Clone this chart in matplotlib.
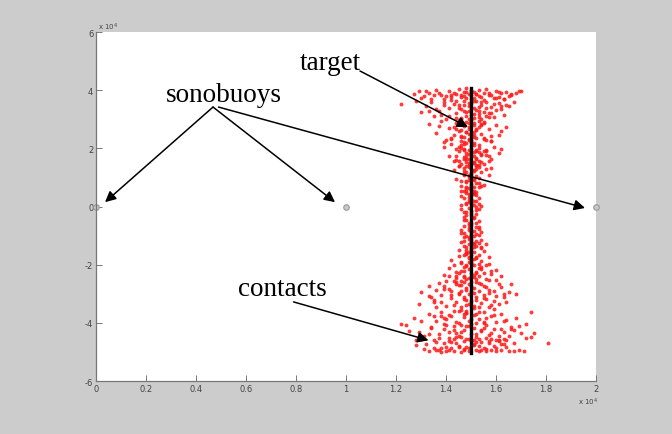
import matplotlib.pyplot as plt
import numpy as np

# all positions are in units of 10^4 (as on the axes)
buoy_x = [0.0, 1.0, 2.0]
buoy_y = [0.0, 0.0, 0.0]

target_x = [1.5, 1.5]
target_y = [-5.03, 4.07]

x_ticks = [0, 0.2, 0.4, 0.6, 0.8, 1, 1.2, 1.4, 1.6, 1.8, 2]
x_tick_labels = ['0', '0.2', '0.4', '0.6', '0.8', '1', '1.2', '1.4', '1.6', '1.8', '2']
y_ticks = [-6, -4, -2, 0, 2, 4, 6]
y_tick_labels = ['-6', '-4', '-2', '0', '2', '4', '6']

# contacts (top to bottom)
band_a_x = [1.29, 1.33, 1.36, 1.38, 1.41, 1.43, 1.45, 1.46, 1.47, 1.48,
            1.49, 1.50, 1.51, 1.52, 1.53, 1.55, 1.56, 1.58, 1.60, 1.62,
            1.64, 1.66, 1.69, 1.31, 1.35, 1.40, 1.44, 1.47, 1.50, 1.53,
            1.57, 1.61, 1.65, 1.42, 1.48, 1.54, 1.59, 1.39, 1.51, 1.63]
band_a_y = [3.96, 3.92, 4.00, 3.85, 3.98, 3.90, 4.05, 3.82, 3.95, 4.08,
            3.88, 4.02, 3.93, 3.86, 3.99, 3.91, 4.03, 3.84, 3.97, 3.89,
            3.94, 3.87, 3.96, 3.80, 3.83, 3.81, 3.87, 3.79, 3.84, 3.80,
            3.82, 3.78, 3.81, 3.76, 3.74, 3.77, 3.73, 3.70, 3.72, 3.69]

band_b_x = [1.22, 1.28, 1.32, 1.34, 1.37, 1.39, 1.41, 1.42, 1.44, 1.45,
            1.46, 1.47, 1.48, 1.49, 1.49, 1.50, 1.51, 1.51, 1.52, 1.53,
            1.54, 1.55, 1.56, 1.57, 1.58, 1.60, 1.61, 1.63, 1.65, 1.67,
            1.35, 1.40, 1.43, 1.46, 1.48, 1.50, 1.52, 1.54, 1.57, 1.59,
            1.62, 1.30, 1.44, 1.53, 1.56]
band_b_y = [3.52, 3.62, 3.45, 3.68, 3.30, 3.58, 3.40, 3.66, 3.21, 3.50,
            3.35, 3.62, 3.12, 3.44, 3.28, 3.55, 3.05, 3.38, 3.64, 3.18,
            3.48, 3.26, 3.60, 3.09, 3.42, 3.33, 3.56, 3.15, 3.47, 3.60,
            3.10, 3.02, 3.54, 3.00, 3.24, 3.14, 3.32, 3.01, 3.20, 3.07,
            3.36, 3.25, 3.04, 3.08, 3.40]

band_c_x = [1.33, 1.36, 1.38, 1.40, 1.41, 1.43, 1.44, 1.45, 1.46, 1.47,
            1.47, 1.48, 1.48, 1.49, 1.49, 1.50, 1.50, 1.51, 1.51, 1.52,
            1.52, 1.53, 1.54, 1.55, 1.56, 1.57, 1.58, 1.60, 1.62, 1.64,
            1.39, 1.42, 1.45, 1.46, 1.49, 1.50, 1.53, 1.55, 1.58, 1.44,
            1.51, 1.47, 1.54, 1.37, 1.61]
band_c_y = [2.85, 2.52, 2.95, 2.30, 2.70, 2.45, 2.88, 2.60, 2.25, 2.78,
            2.40, 2.92, 2.55, 2.33, 2.68, 2.98, 2.48, 2.20, 2.82, 2.62,
            2.36, 2.74, 2.50, 2.90, 2.28, 2.65, 2.42, 2.80, 2.58, 2.72,
            2.22, 2.35, 2.97, 2.43, 2.86, 2.27, 2.93, 2.31, 2.24, 2.66,
            2.57, 2.21, 2.84, 2.76, 2.47]

band_d_x = [1.39, 1.41, 1.42, 1.44, 1.45, 1.46, 1.46, 1.47, 1.47, 1.48,
            1.48, 1.48, 1.49, 1.49, 1.49, 1.50, 1.50, 1.50, 1.51, 1.51,
            1.51, 1.52, 1.52, 1.53, 1.53, 1.54, 1.55, 1.56, 1.57, 1.59,
            1.61, 1.43, 1.45, 1.47, 1.49, 1.50, 1.52, 1.54, 1.56, 1.58,
            1.46, 1.48, 1.51, 1.53, 1.62]
band_d_y = [2.05, 1.75, 2.15, 1.60, 1.92, 1.45, 2.10, 1.70, 1.98, 1.52,
            1.85, 2.18, 1.62, 1.94, 1.42, 1.78, 2.08, 1.56, 1.88, 1.48,
            2.12, 1.68, 1.96, 1.58, 2.02, 1.81, 1.46, 1.90, 1.72, 2.06,
            1.83, 1.55, 1.40, 1.65, 1.50, 1.99, 1.44, 1.76, 1.95, 1.64,
            2.00, 1.73, 1.54, 1.87, 1.97]

band_e_x = [1.43, 1.44, 1.45, 1.46, 1.47, 1.47, 1.48, 1.48, 1.49, 1.49,
            1.49, 1.50, 1.50, 1.50, 1.51, 1.51, 1.51, 1.52, 1.52, 1.53,
            1.53, 1.54, 1.55, 1.56, 1.57, 1.46, 1.48, 1.50, 1.52, 1.54,
            1.47, 1.49, 1.51, 1.53, 1.58]
band_e_y = [1.25, 0.95, 1.38, 0.72, 1.10, 1.32, 0.85, 1.20, 0.65, 1.02,
            1.35, 0.78, 1.15, 1.30, 0.92, 0.68, 1.22, 1.05, 0.82, 1.36,
            0.98, 1.18, 0.75, 1.28, 1.08, 0.88, 0.62, 1.00, 1.40, 0.70,
            1.12, 0.90, 1.26, 0.66, 1.33]

band_f_x = [1.46, 1.47, 1.47, 1.48, 1.48, 1.49, 1.49, 1.49, 1.50, 1.50,
            1.50, 1.51, 1.51, 1.51, 1.52, 1.52, 1.53, 1.53, 1.54, 1.48,
            1.50, 1.52, 1.49, 1.51, 1.47, 1.53, 1.50, 1.48, 1.52, 1.46]
band_f_y = [0.35, -0.20, 0.52, 0.10, -0.45, 0.42, -0.05, -0.55, 0.25, -0.30,
            0.58, 0.05, -0.40, 0.45, 0.18, -0.12, 0.30, -0.50, 0.02, 0.55,
            -0.58, -0.25, 0.22, 0.48, -0.35, 0.08, -0.15, 0.12, 0.38, -0.08]

band_g_x = [1.45, 1.46, 1.47, 1.47, 1.48, 1.48, 1.49, 1.49, 1.49, 1.50,
            1.50, 1.50, 1.51, 1.51, 1.51, 1.52, 1.52, 1.53, 1.54, 1.55,
            1.56, 1.47, 1.49, 1.51, 1.53, 1.48, 1.50, 1.52, 1.46, 1.54]
band_g_y = [-1.50, -0.90, -1.20, -0.68, -1.40, -1.02, -0.75, -1.30, -1.55, -0.62,
            -1.10, -1.45, -0.85, -1.25, -1.58, -0.95, -1.35, -0.72, -1.15, -1.52,
            -1.28, -1.05, -0.80, -1.38, -0.98, -1.60, -0.88, -1.18, -1.22, -1.42]

band_h_x = [1.39, 1.41, 1.42, 1.44, 1.45, 1.46, 1.46, 1.47, 1.47, 1.48,
            1.48, 1.49, 1.49, 1.49, 1.50, 1.50, 1.51, 1.51, 1.51, 1.52,
            1.52, 1.53, 1.53, 1.54, 1.55, 1.56, 1.57, 1.58, 1.60, 1.43,
            1.45, 1.48, 1.50, 1.52, 1.54, 1.57, 1.47, 1.50, 1.53, 1.44]
band_h_y = [-2.35, -2.10, -1.85, -2.45, -1.70, -2.20, -1.95, -2.38, -1.65, -2.05,
            -2.48, -1.78, -2.15, -1.90, -2.30, -1.68, -2.42, -2.00, -1.82, -2.25,
            -1.72, -2.12, -2.40, -1.88, -2.28, -2.02, -1.75, -2.33, -2.18, -2.00,
            -2.27, -1.62, -1.93, -2.50, -2.08, -1.98, -2.22, -2.44, -1.67, -2.40]

band_i_x = [1.29, 1.30, 1.33, 1.35, 1.37, 1.38, 1.40, 1.41, 1.42, 1.43,
            1.44, 1.45, 1.46, 1.46, 1.47, 1.47, 1.48, 1.48, 1.49, 1.49,
            1.50, 1.51, 1.51, 1.52, 1.52, 1.53, 1.54, 1.55, 1.56, 1.57,
            1.58, 1.59, 1.60, 1.62, 1.64, 1.66, 1.68, 1.36, 1.39, 1.44,
            1.48, 1.53, 1.57, 1.61, 1.42, 1.50, 1.55, 1.46, 1.34, 1.63]
band_i_y = [-3.35, -2.94, -2.75, -3.20, -2.62, -3.05, -3.42, -2.85, -3.15, -2.55,
            -3.30, -2.98, -2.70, -3.45, -3.10, -2.58, -2.88, -3.38, -3.02, -2.65,
            -3.25, -2.80, -3.48, -3.12, -2.60, -2.92, -3.32, -2.72, -3.18, -2.52,
            -3.40, -2.90, -3.08, -2.78, -3.28, -2.68, -3.00, -3.46, -2.82, -2.66,
            -3.22, -3.44, -2.96, -3.36, -3.04, -2.74, -3.14, -2.56, -3.12, -3.00]

band_j_x = [1.22, 1.24, 1.27, 1.29, 1.31, 1.33, 1.34, 1.36, 1.37, 1.38,
            1.39, 1.40, 1.41, 1.42, 1.43, 1.44, 1.45, 1.45, 1.46, 1.47,
            1.47, 1.48, 1.48, 1.49, 1.49, 1.50, 1.51, 1.51, 1.52, 1.52,
            1.53, 1.54, 1.55, 1.56, 1.57, 1.58, 1.59, 1.60, 1.61, 1.62,
            1.63, 1.64, 1.66, 1.68, 1.70, 1.72, 1.74, 1.74, 1.30, 1.35,
            1.39, 1.43, 1.46, 1.50, 1.53, 1.56, 1.59, 1.63, 1.67, 1.41,
            1.48, 1.55, 1.38, 1.61]
band_j_y = [-4.04, -4.07, -3.85, -4.30, -4.45, -3.70, -4.15, -3.95, -4.40, -3.62,
            -4.22, -3.88, -4.52, -3.75, -4.10, -4.35, -3.58, -4.00, -4.48, -3.80,
            -4.25, -3.66, -4.12, -4.55, -3.92, -4.38, -3.72, -4.18, -4.02, -4.50,
            -3.86, -4.28, -3.64, -4.08, -4.42, -3.78, -4.20, -3.98, -4.46, -3.68,
            -4.32, -3.90, -4.14, -3.82, -4.36, -4.05, -3.62, -4.48, -4.56, -4.58,
            -4.05, -4.54, -3.55, -4.58, -4.55, -4.52, -3.54, -4.57, -4.26, -4.30,
            -3.60, -3.96, -3.75, -4.58]

band_k_x = [1.28, 1.31, 1.33, 1.35, 1.37, 1.39, 1.40, 1.42, 1.43, 1.45,
            1.46, 1.47, 1.48, 1.49, 1.51, 1.52, 1.53, 1.55, 1.56, 1.58,
            1.59, 1.60, 1.62, 1.63, 1.65, 1.67, 1.69, 1.71, 1.81, 1.36,
            1.41, 1.44, 1.50, 1.54, 1.57, 1.61, 1.64, 1.38, 1.47, 1.52]
band_k_y = [-4.75, -4.90, -4.97, -4.85, -4.95, -4.70, -4.98, -4.88, -4.96, -4.78,
            -4.99, -4.92, -4.82, -4.97, -4.72, -4.94, -4.98, -4.86, -4.96, -4.93,
            -4.80, -4.97, -4.95, -4.74, -4.96, -4.98, -4.94, -4.97, -4.69, -4.66,
            -4.64, -4.68, -4.62, -4.65, -4.70, -4.63, -4.84, -4.99, -4.62, -4.67]

# second pass of contacts, filling the denser parts
upper_fan_x = [1.27, 1.30, 1.32, 1.34, 1.37, 1.39, 1.42, 1.44, 1.45, 1.46,
               1.47, 1.48, 1.49, 1.50, 1.51, 1.52, 1.53, 1.54, 1.55, 1.57,
               1.59, 1.61, 1.63, 1.66, 1.68, 1.36, 1.41, 1.46, 1.49, 1.51,
               1.54, 1.58, 1.62, 1.43, 1.47, 1.50, 1.52, 1.56, 1.60, 1.45,
               1.48, 1.53, 1.38, 1.64, 1.33, 1.49, 1.51, 1.46, 1.55, 1.70]
upper_fan_y = [3.88, 3.74, 3.97, 3.58, 3.91, 3.48, 3.85, 3.63, 2.95, 3.76,
               3.28, 3.93, 3.55, 3.70, 3.18, 3.86, 3.42, 2.80, 3.66, 3.90,
               3.52, 3.95, 3.68, 3.84, 3.92, 3.35, 3.12, 2.62, 3.02, 2.88,
               3.58, 3.22, 3.45, 2.74, 3.48, 3.98, 2.68, 3.12, 3.72, 3.38,
               2.55, 3.30, 3.15, 3.50, 3.30, 2.72, 3.62, 3.06, 2.86, 3.98]

upper_core_x = [1.42, 1.44, 1.45, 1.46, 1.47, 1.47, 1.48, 1.48, 1.49, 1.49,
                1.49, 1.50, 1.50, 1.50, 1.51, 1.51, 1.51, 1.52, 1.52, 1.53,
                1.53, 1.54, 1.55, 1.56, 1.58, 1.46, 1.48, 1.49, 1.50, 1.51,
                1.52, 1.47, 1.50, 1.53, 1.45, 1.55, 1.48, 1.51, 1.57, 1.44]
upper_core_y = [2.32, 1.98, 1.55, 2.40, 1.22, 2.15, 0.88, 1.65, 2.28, 1.08,
                1.82, 0.58, 1.45, 2.22, 0.95, 1.72, 2.45, 1.30, 1.90, 0.80,
                2.10, 1.52, 2.35, 1.78, 2.26, 0.55, 1.38, 2.48, 1.12, 0.52,
                1.62, 1.95, 0.72, 1.42, 2.05, 1.92, 0.68, 2.38, 1.58, 1.75]

center_x = [1.46, 1.47, 1.47, 1.48, 1.48, 1.49, 1.49, 1.49, 1.50, 1.50,
            1.50, 1.51, 1.51, 1.51, 1.52, 1.52, 1.53, 1.53, 1.54, 1.47,
            1.48, 1.49, 1.50, 1.51, 1.52, 1.46, 1.53, 1.49, 1.51, 1.48,
            1.50, 1.52, 1.47, 1.50, 1.54]
center_y = [-0.82, 0.28, -1.35, -0.18, 0.46, -1.12, -0.62, 0.15, -0.95, 0.40,
            -1.42, -0.35, 0.20, -1.00, -0.70, 0.50, -1.25, -0.10, -0.88, -0.48,
            -1.48, 0.32, -0.22, -1.30, -0.58, 0.05, -0.78, -1.05, 0.42, -0.28,
            -1.18, 0.00, -0.92, 0.12, -1.38]

lower_core_x = [1.33, 1.36, 1.38, 1.40, 1.42, 1.43, 1.44, 1.45, 1.46, 1.47,
                1.47, 1.48, 1.48, 1.49, 1.49, 1.50, 1.50, 1.51, 1.51, 1.52,
                1.52, 1.53, 1.54, 1.55, 1.56, 1.57, 1.58, 1.59, 1.61, 1.63,
                1.65, 1.41, 1.45, 1.48, 1.50, 1.53, 1.56, 1.60, 1.44, 1.47,
                1.51, 1.54, 1.39, 1.46, 1.49, 1.52, 1.57, 1.35, 1.62, 1.50]
lower_core_y = [-3.08, -2.86, -3.30, -2.55, -2.92, -3.40, -2.25, -2.70, -1.92, -3.18,
                -2.44, -2.02, -2.80, -1.72, -3.36, -2.58, -1.85, -2.98, -2.34, -1.78,
                -3.22, -2.62, -2.14, -3.05, -2.48, -2.88, -2.20, -3.26, -2.66, -3.12,
                -2.95, -2.38, -3.02, -1.60, -2.90, -1.98, -2.76, -2.52, -2.60, -2.08,
                -3.42, -2.68, -2.72, -2.92, -2.46, -2.30, -3.44, -3.28, -2.40, -1.94]

lower_fan_x = [1.25, 1.28, 1.30, 1.32, 1.34, 1.35, 1.37, 1.38, 1.40, 1.41,
               1.42, 1.43, 1.44, 1.45, 1.46, 1.47, 1.48, 1.49, 1.50, 1.51,
               1.52, 1.53, 1.54, 1.55, 1.56, 1.57, 1.58, 1.59, 1.60, 1.62,
               1.63, 1.65, 1.67, 1.69, 1.72, 1.75, 1.36, 1.40, 1.44, 1.47,
               1.50, 1.53, 1.56, 1.60, 1.64, 1.33, 1.39, 1.45, 1.49, 1.52,
               1.58, 1.62, 1.43, 1.46, 1.51, 1.55, 1.48, 1.54, 1.41, 1.66]
lower_fan_y = [-4.28, -4.60, -3.92, -4.72, -4.16, -3.78, -4.52, -4.88, -4.06, -3.72,
               -4.66, -4.24, -3.96, -4.84, -4.32, -3.68, -4.56, -4.12, -3.86, -4.76,
               -4.40, -3.62, -4.92, -4.18, -3.82, -4.62, -4.34, -3.74, -4.58, -4.22,
               -3.94, -4.44, -4.68, -4.10, -4.52, -4.35, -4.94, -4.84, -4.50, -4.90,
               -4.04, -4.80, -4.90, -4.86, -4.60, -4.40, -3.84, -4.44, -4.86, -3.70,
               -4.54, -4.72, -3.58, -4.08, -4.60, -4.02, -3.66, -4.24, -4.94, -4.22]

bands = [(band_a_x, band_a_y), (band_b_x, band_b_y), (band_c_x, band_c_y),
         (band_d_x, band_d_y), (band_e_x, band_e_y), (band_f_x, band_f_y),
         (band_g_x, band_g_y), (band_h_x, band_h_y), (band_i_x, band_i_y),
         (band_j_x, band_j_y), (band_k_x, band_k_y),
         (upper_fan_x, upper_fan_y), (upper_core_x, upper_core_y),
         (center_x, center_y), (lower_core_x, lower_core_y),
         (lower_fan_x, lower_fan_y)]

fig = plt.figure(figsize=(6.72, 4.35), dpi=100, facecolor='#cccccc')
ax = fig.add_axes([0.1429, 0.1218, 0.744, 0.8023])
ax.set_facecolor('white')

for bx, by in bands:
    ax.plot(bx, by, 'o', color='#ff1a1a', markersize=2.8, markeredgewidth=0, alpha=0.85)

ax.plot(target_x, target_y, color='black', linewidth=2.4)

ax.plot(buoy_x, buoy_y, 'o', markersize=4, markerfacecolor='#c8c8c8',
        markeredgecolor='#999999', markeredgewidth=0.8, linestyle='none', clip_on=False)

ax.set_xlim(0, 2)
ax.set_ylim(-6, 6)
ax.set_xticks(x_ticks)
ax.set_xticklabels(x_tick_labels)
ax.set_yticks(y_ticks)
ax.set_yticklabels(y_tick_labels)
ax.tick_params(direction='in', length=4, width=0.7, colors='#777777',
               labelsize=6, labelcolor='#444444', pad=2)
for side in ['top', 'right']:
    ax.spines[side].set_visible(False)
for side in ['left', 'bottom']:
    ax.spines[side].set_color('#777777')
    ax.spines[side].set_linewidth(0.9)

ax.text(0.003, 1.017, r'x 10$^4$', transform=ax.transAxes, fontsize=5,
        color='#444444', ha='left', va='center')
ax.text(0.985, -0.057, r'x 10$^4$', transform=ax.transAxes, fontsize=5,
        color='#444444', ha='center', va='center')

serif = ['Liberation Serif', 'DejaVu Serif']
arrow = dict(arrowstyle='-|>', color='black', lw=1.1, mutation_scale=16,
             shrinkA=0, shrinkB=0)

ax.text(0.936, 4.73, 'target', family=serif, fontsize=19.5, ha='center', va='baseline')
ax.annotate('', xy=(1.488, 2.73), xytext=(1.056, 4.66), arrowprops=arrow)

ax.text(0.51, 3.63, 'sonobuoys', family=serif, fontsize=19.5, ha='center', va='baseline')
ax.annotate('', xy=(0.036, 0.15), xytext=(0.468, 3.42), arrowprops=arrow)
ax.annotate('', xy=(0.956, 0.15), xytext=(0.468, 3.42), arrowprops=arrow)
ax.annotate('', xy=(1.956, -0.05), xytext=(0.49, 3.42), arrowprops=arrow)

ax.text(0.745, -3.04, 'contacts', family=serif, fontsize=19.5, ha='center', va='baseline')
ax.annotate('', xy=(1.33, -4.6), xytext=(0.79, -3.28), arrowprops=arrow)

fig.savefig('out.png', dpi=100, facecolor=fig.get_facecolor())
